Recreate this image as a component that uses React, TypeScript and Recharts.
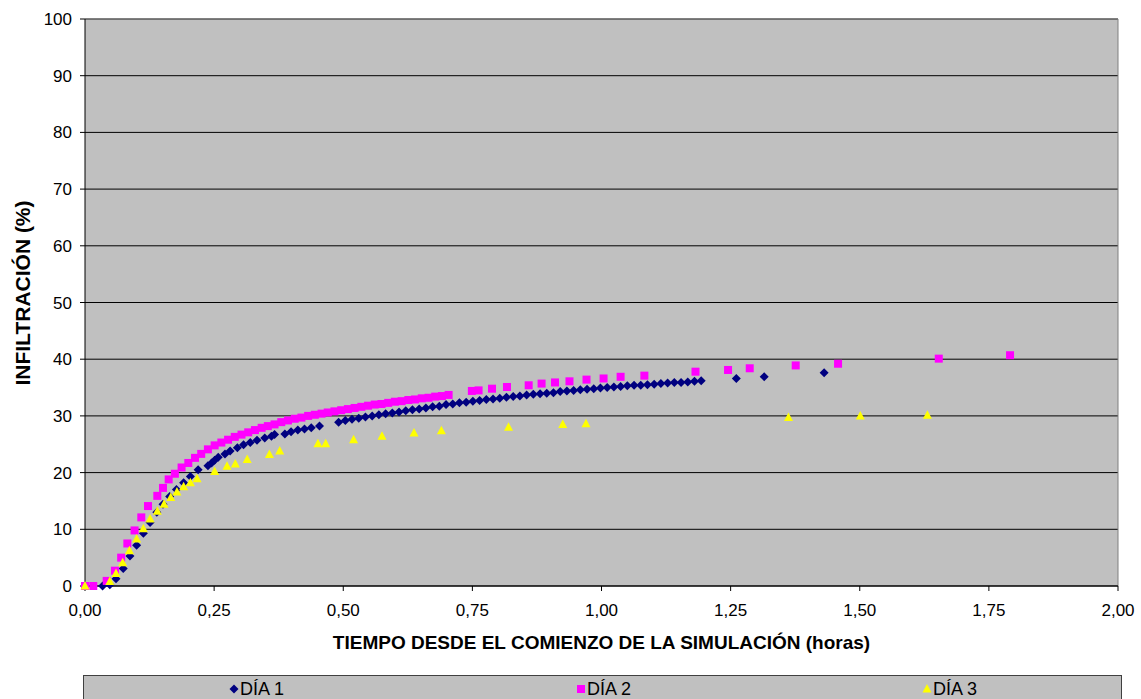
import React from "react";
import {
  CartesianGrid,
  ReferenceLine,
  Scatter,
  ScatterChart,
  XAxis,
  YAxis,
} from "recharts";

// Día 1 (rombos azul marino)
const DIA1_T = [
  0.034, 0.048, 0.06, 0.074, 0.087, 0.1, 0.113, 0.126, 0.139, 0.151, 0.164, 0.177,
  0.191, 0.204, 0.219, 0.238, 0.245, 0.251, 0.258, 0.271, 0.281, 0.295, 0.307, 0.32,
  0.333, 0.348, 0.361, 0.367, 0.387, 0.399, 0.412, 0.425, 0.438, 0.454,
  0.491, 0.504, 0.517, 0.53, 0.543, 0.556, 0.569, 0.582, 0.595, 0.608, 0.621, 0.634,
  0.647, 0.66, 0.673, 0.686, 0.699, 0.712, 0.725, 0.738, 0.751, 0.764, 0.777, 0.79,
  0.803, 0.816, 0.829, 0.842, 0.855, 0.868, 0.881, 0.894, 0.907, 0.92, 0.933, 0.946,
  0.959, 0.972, 0.985, 0.998, 1.011, 1.024, 1.037, 1.05, 1.063, 1.076, 1.089, 1.102,
  1.115, 1.128, 1.141, 1.154, 1.167, 1.18, 1.193, 1.261, 1.315, 1.431,
];
const DIA1_V = [
  0.0, 0.2, 1.3, 3.1, 5.3, 7.2, 9.3, 11.2, 13.0, 14.4, 15.8, 17.0,
  18.2, 19.3, 20.5, 21.2, 21.7, 22.2, 22.7, 23.3, 23.8, 24.4, 24.9, 25.3,
  25.7, 26.1, 26.4, 26.7, 26.8, 27.2, 27.5, 27.7, 27.9, 28.2,
  28.9, 29.2, 29.4, 29.6, 29.8, 30.0, 30.2, 30.4, 30.5, 30.7, 30.9, 31.1,
  31.2, 31.4, 31.6, 31.7, 32.0, 32.1, 32.3, 32.4, 32.6, 32.7, 32.9, 33.0,
  33.1, 33.3, 33.4, 33.5, 33.7, 33.8, 33.9, 34.0, 34.1, 34.3, 34.4, 34.5,
  34.6, 34.7, 34.8, 34.9, 35.0, 35.1, 35.2, 35.3, 35.4, 35.4, 35.5, 35.6,
  35.7, 35.8, 35.9, 35.9, 36.0, 36.1, 36.2, 36.6, 36.9, 37.6,
];

// Día 2 (cuadrados magenta)
const DIA2_T = [
  0.0, 0.016, 0.042, 0.058, 0.07, 0.082, 0.096, 0.109, 0.122, 0.14, 0.151, 0.162,
  0.174, 0.187, 0.2, 0.213, 0.225, 0.238, 0.251, 0.264, 0.277, 0.29, 0.303, 0.316,
  0.329, 0.342, 0.354, 0.367, 0.38, 0.393, 0.406, 0.419, 0.432, 0.445, 0.458, 0.47,
  0.483, 0.496, 0.509, 0.522, 0.535, 0.548, 0.561, 0.574, 0.587, 0.6, 0.613, 0.626,
  0.639, 0.652, 0.665, 0.678, 0.691, 0.704, 0.749, 0.762, 0.788, 0.817, 0.859, 0.884,
  0.91, 0.938, 0.971, 1.004, 1.037, 1.083, 1.182, 1.245, 1.287, 1.376, 1.458, 1.653,
  1.791,
];
const DIA2_V = [
  0.0, 0.0, 0.9, 2.7, 5.0, 7.5, 9.8, 12.1, 14.1, 15.9, 17.3, 18.8,
  19.8, 20.9, 21.7, 22.6, 23.3, 24.1, 24.8, 25.3, 25.8, 26.3, 26.7, 27.1,
  27.5, 27.9, 28.2, 28.5, 28.9, 29.2, 29.5, 29.7, 30.0, 30.2, 30.4, 30.6,
  30.8, 31.0, 31.2, 31.4, 31.6, 31.8, 32.0, 32.1, 32.3, 32.5, 32.6, 32.8,
  32.9, 33.1, 33.2, 33.4, 33.5, 33.7, 34.4, 34.5, 34.8, 35.1, 35.4, 35.7,
  35.9, 36.1, 36.4, 36.6, 36.9, 37.1, 37.8, 38.1, 38.4, 38.9, 39.2, 40.1,
  40.7,
];

// Día 3 (triángulos amarillos)
const DIA3_T = [
  0.0, 0.048, 0.06, 0.073, 0.086, 0.1, 0.113, 0.126, 0.14, 0.153, 0.166, 0.178,
  0.191, 0.204, 0.217, 0.251, 0.275, 0.291, 0.314, 0.357, 0.377, 0.451, 0.466, 0.52,
  0.575, 0.637, 0.69, 0.82, 0.925, 0.97, 1.362, 1.501, 1.631,
];
const DIA3_V = [
  0.0, 0.8, 2.2, 4.1, 6.2, 8.3, 10.1, 11.8, 13.2, 14.4, 15.6, 16.6,
  17.5, 18.2, 18.9, 20.2, 21.1, 21.5, 22.3, 23.2, 23.8, 25.1, 25.1, 25.8,
  26.4, 27.0, 27.4, 28.0, 28.5, 28.6, 29.7, 30.0, 30.1,
];

const X_TICKS = [0, 0.25, 0.5, 0.75, 1, 1.25, 1.5, 1.75, 2];
const Y_TICKS = [0, 10, 20, 30, 40, 50, 60, 70, 80, 90, 100];

const FONT = "'Liberation Sans', Arial, sans-serif";

const toPoints = (t: number[], v: number[]) => t.map((x, i) => ({ t: x, v: v[i] }));

function Diamond({ cx, cy, fill }: any) {
  const r = 4.5;
  return <polygon points={`${cx},${cy - r} ${cx + r},${cy} ${cx},${cy + r} ${cx - r},${cy}`} fill={fill} />;
}

function Square({ cx, cy, fill }: any) {
  return <rect x={cx - 4} y={cy - 4} width={8} height={8} fill={fill} />;
}

function Triangle({ cx, cy, fill }: any) {
  return <polygon points={`${cx},${cy - 5} ${cx + 4.5},${cy + 3.5} ${cx - 4.5},${cy + 3.5}`} fill={fill} />;
}

const SERIES = [
  { name: "DÍA 1", color: "#000080", data: toPoints(DIA1_T, DIA1_V), shape: Diamond },
  { name: "DÍA 2", color: "#FF00FF", data: toPoints(DIA2_T, DIA2_V), shape: Square },
  { name: "DÍA 3", color: "#FFFF00", data: toPoints(DIA3_T, DIA3_V), shape: Triangle },
];

const LEGEND_X = [234, 581, 927];

function YLabel() {
  return (
    <text
      x={22}
      y={293}
      transform="rotate(-90 22 293)"
      textAnchor="middle"
      dominantBaseline="central"
      fontFamily={FONT}
      fontWeight="bold"
      fontSize={21}
      fill="#000"
    >
      INFILTRACIÓN (%)
    </text>
  );
}

export default function App() {
  return (
    <div style={{ position: "fixed", left: 0, top: 0, width: 1141, height: 699, background: "#fff" }}>
      <ScatterChart width={1141} height={699} margin={{ top: 19, right: 23, bottom: 53, left: 0 }}>
        <CartesianGrid vertical={false} stroke="#000" fill="#C0C0C0" fillOpacity={1} />
        <XAxis
          type="number"
          dataKey="t"
          domain={[0, 2]}
          ticks={X_TICKS}
          height={60}
          tickFormatter={(v: number) => v.toFixed(2).replace(".", ",")}
          tick={{ fontSize: 17, fill: "#000", fontFamily: FONT }}
          tickSize={5}
          tickMargin={13}
          stroke="#000"
          label={{
            value: "TIEMPO DESDE EL COMIENZO DE LA SIMULACIÓN (horas)",
            position: "insideBottom",
            offset: -3,
            style: { fontFamily: FONT, fontWeight: "bold", fontSize: 19, fill: "#000" },
          }}
        />
        <YAxis
          type="number"
          dataKey="v"
          domain={[0, 100]}
          ticks={Y_TICKS}
          width={85}
          tick={{ fontSize: 17, fill: "#000", fontFamily: FONT }}
          tickSize={5}
          tickMargin={8}
          stroke="#000"
          label={<YLabel />}
        />
        <ReferenceLine y={100} stroke="#808080" />
        <ReferenceLine x={2} stroke="#808080" />
        {SERIES.map((s) => (
          <Scatter
            key={s.name}
            name={s.name}
            data={s.data}
            fill={s.color}
            shape={s.shape}
            isAnimationActive={false}
          />
        ))}
      </ScatterChart>
      <div
        style={{
          position: "absolute",
          left: 83,
          top: 675,
          width: 1037,
          height: 30,
          background: "#C0C0C0",
          border: "1px solid #404040",
          fontFamily: FONT,
          fontSize: 18,
        }}
      >
        {SERIES.map((s, i) => (
          <div
            key={s.name}
            style={{ position: "absolute", left: LEGEND_X[i] - 89, top: 3, display: "flex", alignItems: "center", lineHeight: "20px" }}
          >
            <svg width={10} height={10} style={{ marginRight: 1 }}>
              <s.shape cx={5} cy={5} fill={s.color} />
            </svg>
            <span>{s.name}</span>
          </div>
        ))}
      </div>
    </div>
  );
}
